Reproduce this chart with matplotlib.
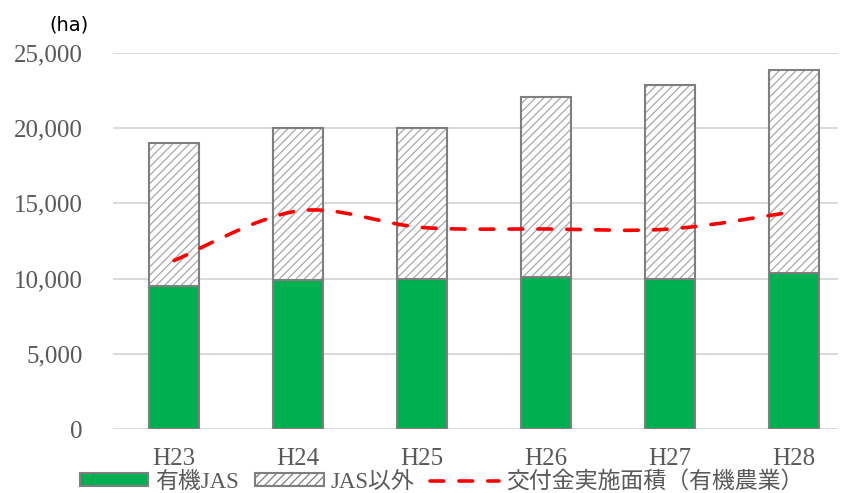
import numpy as np
import matplotlib
matplotlib.use('Agg')
import matplotlib.pyplot as plt
from matplotlib.path import Path
from matplotlib.patches import PathPatch, Patch
from matplotlib.lines import Line2D
from matplotlib.ticker import FuncFormatter

plt.rcParams['font.family'] = ['Liberation Serif', 'Noto Sans CJK JP', 'DejaVu Sans']

# Data (ha)
years = ['H23', 'H24', 'H25', 'H26', 'H27', 'H28']
jas = [9500, 9900, 10000, 10100, 10000, 10400]
non_jas = [9500, 10100, 10000, 11950, 12850, 13500]
subsidy = [11200, 14500, 13400, 13300, 13300, 14450]

green = '#00b050'
edge = '#7f7f7f'
text_grey = '#595959'

fig = plt.figure(figsize=(8.48, 4.93), dpi=100)
ax = fig.add_axes([0.1333, 0.1298, 0.855, 0.7627])

x = np.arange(len(years))
w = 0.4

ax.bar(x, jas, w, color=green, edgecolor=edge, linewidth=1.5, zorder=2)
# hatched part: hatch drawn in light grey, outline drawn separately
plt.rcParams['hatch.linewidth'] = 0.9
ax.bar(x, non_jas, w, bottom=jas, color='white', edgecolor='#a8a8a8',
       hatch='////', linewidth=0, zorder=2)
ax.bar(x, non_jas, w, bottom=jas, fill=False, edgecolor=edge, linewidth=1.5, zorder=3)

# smoothed line (Bezier through the points, like a spreadsheet smooth line)
pts = np.column_stack([x, subsidy]).astype(float)
verts = [pts[0]]
codes = [Path.MOVETO]
n = len(pts)
for i in range(n - 1):
    p0 = pts[i - 1] if i > 0 else pts[i]
    p1 = pts[i]
    p2 = pts[i + 1]
    p3 = pts[i + 2] if i + 2 < n else pts[i + 1]
    c1 = p1 + (p2 - p0) / 6
    c2 = p2 - (p3 - p1) / 6
    verts += [c1, c2, p2]
    codes += [Path.CURVE4] * 3
line = PathPatch(Path(verts, codes), fill=False, edgecolor='#ff0000', linewidth=2.6,
                 linestyle=(0, (3.8, 4.2)), capstyle='round', zorder=4)
ax.add_patch(line)

ax.set_xlim(-0.492, 5.355)
ax.set_ylim(0, 25000)
ax.set_xticks(x)
ax.set_xticklabels(years)
ax.set_yticks(np.arange(0, 25001, 5000))
ax.yaxis.set_major_formatter(FuncFormatter(lambda v, p: f'{int(v):,}'))
ax.tick_params(axis='both', length=0, labelsize=18, colors=text_grey)
ax.tick_params(axis='y', pad=22)
ax.tick_params(axis='x', pad=14)
ax.yaxis.grid(True, color='#d9d9d9', linewidth=1.4)
ax.set_axisbelow(True)
for s in ax.spines.values():
    s.set_visible(False)

fig.text(69 / 848, 1 - 25 / 493, '(ha)', ha='center', va='center', fontsize=14,
         family=['DejaVu Sans'], color='black')

handles = [
    Patch(facecolor=green, edgecolor=edge, linewidth=1.5),
    Patch(facecolor='white', edgecolor=edge, hatch='////', linewidth=1.5),
    Line2D([0], [0], color='#ff0000', linewidth=2.6, linestyle=(0, (3.8, 4.2)),
           dash_capstyle='round'),
]
labels = ['有機JAS', 'JAS以外', '交付金実施面積（有機農業）']
fig.legend(handles, labels, loc='center', bbox_to_anchor=(441.5 / 848, 1 - 482 / 493),
           ncol=3, frameon=False, fontsize=16.5, handlelength=3.0, handleheight=0.5,
           handletextpad=0.3, columnspacing=0.7, labelcolor=text_grey,
           borderpad=0, borderaxespad=0)

fig.savefig('out.png', dpi=100)
